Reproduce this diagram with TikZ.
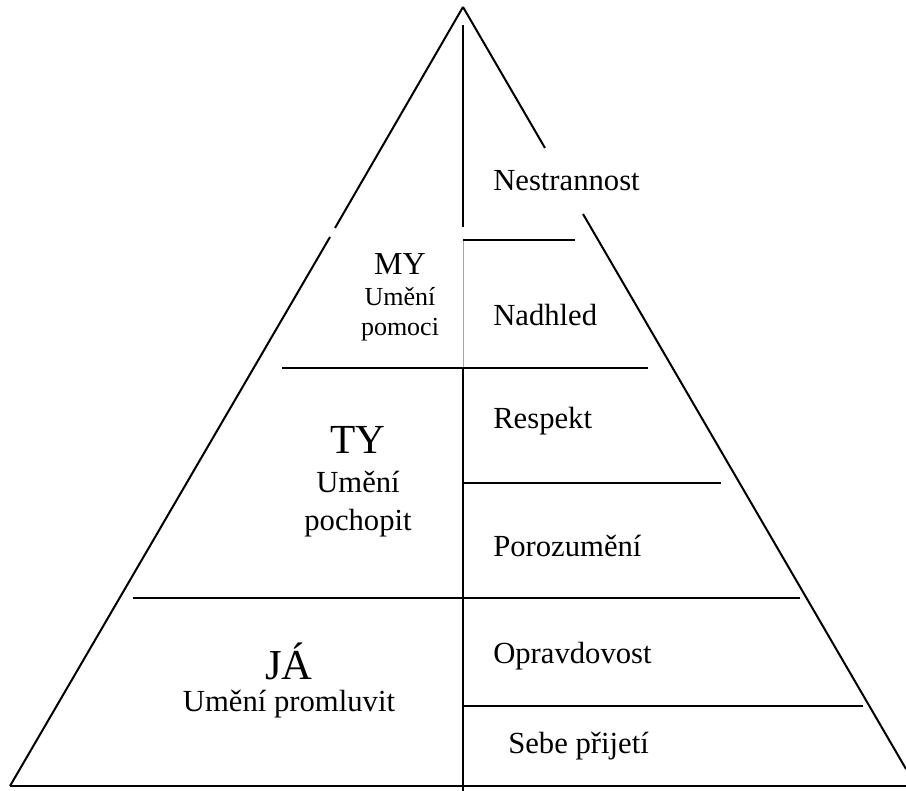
\documentclass[tikz,border=0pt]{standalone}
\usepackage{fontspec}
\setmainfont{Liberation Serif}

\begin{document}
\begin{tikzpicture}[x=0.75pt, y=-0.75pt]
    \tikzset{EdgeStyle/.style  = {line width = 1.5pt,
                                  line cap   = butt}}
    \tikzset{BaseStyle/.style  = {line width = 2pt}}
    \tikzset{ThinStyle/.style  = {line width = 0.5pt,
                                  draw       = black!35}}
    \tikzset{LevelStyle/.style = {inner sep  = 0pt,
                                  anchor     = base,
                                  text depth = 0pt,
                                  font       = \fontsize{31}{34}\selectfont}}
    \tikzset{ArtStyle/.style   = {inner sep  = 0pt,
                                  anchor     = base,
                                  font       = \fontsize{23}{26}\selectfont}}
    \tikzset{ValueStyle/.style = {inner sep  = 0pt,
                                  anchor     = west,
                                  font       = \fontsize{23}{26}\selectfont}}
    \useasboundingbox (0,0) rectangle (906,791);
    % corners and breaks of the pyramid
    \coordinate (apex)  at (463,7);
    \coordinate (left)  at (10,786);
    \coordinate (right) at (906,769);
    \coordinate (lbrk1) at (335,228);
    \coordinate (lbrk2) at (330,237);
    \coordinate (rbrk1) at (545,148);
    \coordinate (rbrk2) at (583,214);
    \draw[EdgeStyle] (apex) -- (lbrk1);
    \draw[EdgeStyle] (lbrk2) -- (left);
    \draw[EdgeStyle] (apex) -- (rbrk1);
    \draw[EdgeStyle] (rbrk2) -- (right);
    \draw[BaseStyle] (left) -- (906,786);
    % middle axis
    \coordinate (top)   at (463,25);
    \coordinate (brk)   at (463,227);
    \coordinate (gray)  at (463,240);
    \coordinate (mid)   at (463,368);
    \coordinate (foot)  at (463,791);
    \draw[EdgeStyle] (top) -- (brk);
    \draw[ThinStyle] (gray) -- (mid);
    \draw[EdgeStyle] (mid) -- (foot);
    % levels
    \draw[EdgeStyle] (282,368) -- (648,368);
    \draw[EdgeStyle] (133,597.5) -- (800,597.5);
    % values
    \draw[EdgeStyle] (gray) -- (575,240);
    \draw[EdgeStyle] (463,483) -- (721,483);
    \draw[EdgeStyle] (463,706) -- (863,706);
    \node[LevelStyle, font = \fontsize{24}{26}\selectfont]
                      (my)     at (400,275) {MY};
    \node[ArtStyle, text depth = 0pt, font = \fontsize{19.5}{22}\selectfont]
                      (myart1) at (400,306) {Umění};
    \node[ArtStyle, font = \fontsize{19.5}{22}\selectfont]
                      (myart2) at (400,336) {pomoci};
    \node[LevelStyle] (ty)     at (358,453) {TY};
    \node[ArtStyle, text depth = 0pt]
                      (tyart1) at (358,492) {Umění};
    \node[ArtStyle]   (tyart2) at (358,530) {pochopit};
    \node[LevelStyle, font = \fontsize{32}{34}\selectfont]
                      (ja)     at (289,679) {JÁ};
    \node[ArtStyle]   (jaart)  at (289,711) {Umění promluvit};
    \node[ValueStyle] (nestrannost) at (493,181) {Nestrannost};
    \node[ValueStyle] (nadhled)     at (493,315) {Nadhled};
    \node[ValueStyle] (respekt)     at (493,421) {Respekt};
    \node[ValueStyle] (porozumeni)  at (493,546) {Porozumění};
    \node[ValueStyle] (opravdovost) at (493,656) {Opravdovost};
    \node[ValueStyle] (sebeprijeti) at (508,746) {Sebe přijetí};
\end{tikzpicture}
\end{document}
